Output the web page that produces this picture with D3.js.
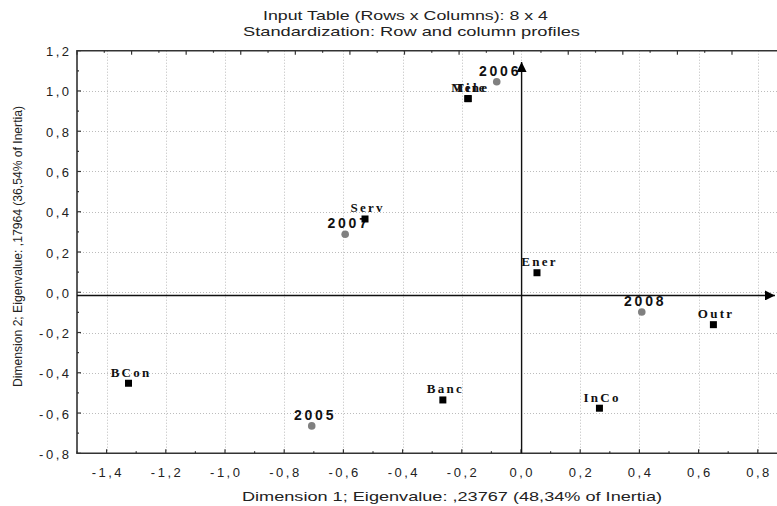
<!DOCTYPE html>
<html lang="en">
<head>
  <meta charset="UTF-8">
  <title>Correspondence Analysis</title>
  <script src="https://d3js.org/d3.v7.min.js"></script>
  <style>
    body { margin: 0; background: #fff; }
    svg { display: block; }
  </style>
</head>
<body>
<div id="chart"></div>
<script>
  // Row points (sectors)
  const rowLabels = ["BCon", "Banc", "Ener", "InCo", "Mine", "Tele", "Outr", "Serv"];
  const rowDim1 = [-1.326, -0.264, 0.054, 0.265, -0.180, -0.178, 0.650, -0.527];
  const rowDim2 = [-0.452, -0.535, 0.097, -0.576, 0.962, 0.962, -0.161, 0.364];

  // Column points (years)
  const colLabels = ["2005", "2006", "2007", "2008"];
  const colDim1 = [-0.707, -0.082, -0.594, 0.408];
  const colDim2 = [-0.664, 1.046, 0.288, -0.098];

  // Ticks
  const xTicks = [-1.4, -1.2, -1.0, -0.8, -0.6, -0.4, -0.2, 0.0, 0.2, 0.4, 0.6, 0.8];
  const yTicks = [-0.8, -0.6, -0.4, -0.2, 0.0, 0.2, 0.4, 0.6, 0.8, 1.0, 1.2];

  const W = 777, H = 506;
  const margin = {top: 50.7, left: 77};
  const plotW = 710.4, plotH = 402.6;

  const x = d3.scaleLinear().domain([-1.5, 0.9]).range([margin.left, margin.left + plotW]);
  const y = d3.scaleLinear().domain([-0.8, 1.2]).range([margin.top + plotH, margin.top]);
  // top axis in the original uses a slightly tighter spacing
  const xTop = d3.scaleLinear().domain([-1.5, 0.9]).range([margin.left, margin.left + plotW * 0.922]);

  const fmt = v => d3.format(".1f")(v).replace("−", "-").replace(".", ",").replace("-0,0", "0,0");

  const svg = d3.select("#chart").append("svg")
    .attr("width", W).attr("height", H)
    .style("font-family", "'Liberation Sans', Arial, sans-serif");

  const x0 = x.range()[0], x1 = x.range()[1];
  const y0 = y.range()[0], y1 = y.range()[1];

  // grid
  const grid = svg.append("g").attr("stroke", "#bcbcbc").attr("stroke-width", 1)
    .attr("stroke-dasharray", "1,2");
  grid.selectAll(".gx").data(xTicks).enter().append("line")
    .attr("x1", d => Math.round(x(d)) + 0.5).attr("x2", d => Math.round(x(d)) + 0.5)
    .attr("y1", y1).attr("y2", y0);
  grid.selectAll(".gy").data(yTicks.slice(1, -1)).enter().append("line")
    .attr("y1", d => Math.round(y(d)) + 0.5).attr("y2", d => Math.round(y(d)) + 0.5)
    .attr("x1", x0).attr("x2", x1);

  // frame
  svg.append("path")
    .attr("d", `M${x1},${y1}H${x0}V${y0}H${x1}V${y1}`)
    .attr("fill", "none").attr("stroke", "#333").attr("stroke-width", 1.6);

  // ticks (inside)
  const minorX = d3.range(-1.5, 0.95, 0.1);
  const minorY = d3.range(-0.8, 1.25, 0.1);
  const tk = svg.append("g").attr("stroke", "#333").attr("stroke-width", 1.2);
  tk.selectAll(".tb").data(minorX).enter().append("line")
    .attr("x1", d => x(d)).attr("x2", d => x(d))
    .attr("y1", y0).attr("y2", (d, i) => y0 - (i % 2 ? 4 : 2));
  tk.selectAll(".tt").data(minorX).enter().append("line")
    .attr("x1", d => xTop(d)).attr("x2", d => xTop(d))
    .attr("y1", y1).attr("y2", (d, i) => y1 + (i % 2 ? 2 : 4));
  tk.selectAll(".tl").data(minorY).enter().append("line")
    .attr("y1", d => y(d)).attr("y2", d => y(d))
    .attr("x1", x0).attr("x2", (d, i) => x0 + (i % 2 ? 2 : 4));

  // tick labels
  const ls = 2.5;
  svg.append("g").selectAll("text").data(xTicks).enter().append("text")
    .attr("x", d => x(d) + ls / 2).attr("y", 476.5)
    .attr("text-anchor", "middle").attr("font-size", 13).attr("letter-spacing", ls)
    .attr("fill", "#222").text(fmt);
  svg.append("g").selectAll("text").data(yTicks).enter().append("text")
    .attr("x", 69 + ls).attr("y", d => y(d) + 5.5)
    .attr("text-anchor", "end").attr("font-size", 13).attr("letter-spacing", ls)
    .attr("fill", "#222").text(fmt);

  // titles
  svg.append("text").attr("x", 263).attr("y", 20).attr("font-size", 13)
    .attr("textLength", 285).attr("lengthAdjust", "spacingAndGlyphs").attr("fill", "#222")
    .text("Input Table (Rows x Columns): 8 x 4");
  svg.append("text").attr("x", 243).attr("y", 36).attr("font-size", 13)
    .attr("textLength", 337).attr("lengthAdjust", "spacingAndGlyphs").attr("fill", "#222")
    .text("Standardization: Row and column profiles");
  svg.append("text").attr("x", 242).attr("y", 501).attr("font-size", 13)
    .attr("textLength", 420).attr("lengthAdjust", "spacingAndGlyphs").attr("fill", "#222")
    .text("Dimension 1; Eigenvalue: ,23767 (48,34% of Inertia)");
  svg.append("text").attr("transform", "translate(22,387) rotate(-90)").attr("font-size", 13)
    .attr("textLength", 281).attr("lengthAdjust", "spacingAndGlyphs").attr("fill", "#222")
    .text("Dimension 2; Eigenvalue: ,17964 (36,54% of Inertia)");

  // origin axes with arrows
  svg.append("defs").append("marker")
    .attr("id", "arr").attr("viewBox", "0 0 10 10").attr("refX", 10).attr("refY", 5)
    .attr("markerWidth", 10).attr("markerHeight", 10).attr("markerUnits", "userSpaceOnUse")
    .attr("orient", "auto")
    .append("path").attr("d", "M0,0L10,5L0,10Z").attr("fill", "#000");
  svg.append("line")
    .attr("x1", x0).attr("x2", x(0.858)).attr("y1", y(-0.016)).attr("y2", y(-0.016))
    .attr("stroke", "#111").attr("stroke-width", 1.4).attr("marker-end", "url(#arr)");
  svg.append("line")
    .attr("x1", x(0.002)).attr("x2", x(0.002)).attr("y1", y0).attr("y2", y(1.144))
    .attr("stroke", "#111").attr("stroke-width", 1.4).attr("marker-end", "url(#arr)");

  // column points (gray circles)
  const cols = colLabels.map((l, i) => ({label: l, d1: colDim1[i], d2: colDim2[i]}));
  svg.append("g").selectAll("circle").data(cols).enter().append("circle")
    .attr("cx", d => x(d.d1)).attr("cy", d => y(d.d2)).attr("r", 3.8)
    .attr("fill", "#808080");
  const cls = 2.8;
  svg.append("g").selectAll("text").data(cols).enter().append("text")
    .attr("x", d => x(d.d1) + 2 + cls / 2).attr("y", d => y(d.d2) - 6)
    .attr("text-anchor", "middle").attr("font-size", 14).attr("font-weight", "bold")
    .attr("letter-spacing", cls).attr("fill", "#111").text(d => d.label);

  // row points (black squares)
  const rows = rowLabels.map((l, i) => ({label: l, d1: rowDim1[i], d2: rowDim2[i]}));
  const s = 7;
  svg.append("g").selectAll("rect").data(rows).enter().append("rect")
    .attr("x", d => x(d.d1) - s / 2).attr("y", d => y(d.d2) - s / 2)
    .attr("width", s).attr("height", s).attr("fill", "#000");
  const rls = 2.3;
  svg.append("g").selectAll("text").data(rows).enter().append("text")
    .attr("x", d => x(d.d1) + 1.5 + rls / 2).attr("y", d => y(d.d2) - 6.5)
    .attr("text-anchor", "middle").attr("font-size", 13).attr("font-weight", "bold")
    .attr("font-family", "'Liberation Serif', 'Times New Roman', serif")
    .attr("letter-spacing", rls).attr("fill", "#111").text(d => d.label);
</script>
</body>
</html>
